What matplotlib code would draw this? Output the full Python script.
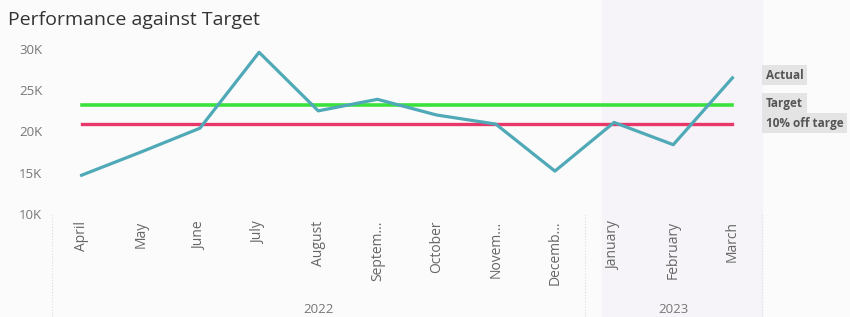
import matplotlib.pyplot as plt

months = ["April", "May", "June", "July", "August", "Septem...", "October",
          "Novem...", "Decemb...", "January", "February", "March"]
years = ["2022", "2023"]
months_per_year = [9, 3]
actual = [14700, 17500, 20400, 29600, 22500, 23900, 22000, 20900, 15200, 21100, 18400, 26500]
target = [23200] * 12
off_target = [20900] * 12
series_names = ["Actual", "Target", "10% off targe"]

W, H = 850, 317
fig = plt.figure(figsize=(W / 100, H / 100), dpi=100)
fig.patch.set_facecolor("#fbfbfb")
plt.rcParams["font.family"] = ["Open Sans", "DejaVu Sans"]


def fx(px):
    return px / W


def fy(py):
    return 1 - py / H


ax = fig.add_axes([fx(52), fy(214), fx(762) - fx(52), fy(49) - fy(214)])
ax.set_facecolor("none")
x = list(range(len(months)))

# faintly shaded 2023 block
split = months_per_year[0] - 0.5
ax.axvspan(split + 0.3, len(months) - 0.5, ymin=-0.7, ymax=1.7, color="#f6f4f8",
           zorder=0, clip_on=False)

ax.plot(x, target, color="#3ce23c", lw=2.6, zorder=3)
ax.plot(x, off_target, color="#e8386a", lw=2.4, zorder=3)
ax.plot(x, actual, color="#4fa9b7", lw=2.3, zorder=4)

ax.set_xlim(-0.5, len(months) - 0.5)
ax.set_ylim(10000, 30000)
ax.set_yticks([10000, 15000, 20000, 25000, 30000])
ax.set_yticklabels([f"{int(v / 1000)}K" for v in ax.get_yticks()])
ax.set_xticks(x)
ax.set_xticklabels(months, rotation=90, va="top", ha="center")
ax.tick_params(axis="x", length=0, pad=5, labelsize=10, labelcolor="#666666")
ax.tick_params(axis="y", length=0, pad=2, labelsize=9.5, labelcolor="#777777")
for lbl in ax.get_yticklabels():
    lbl.set_horizontalalignment("left")
    lbl.set_x(-30 / (762 - 52))
for s in ax.spines.values():
    s.set_visible(False)

# year labels and separators
start = 0
for yr, n in zip(years, months_per_year):
    mid = start + (n - 1) / 2
    ax.text(mid, -0.58, yr, transform=ax.get_xaxis_transform(), ha="center",
            va="center", fontsize=9.5, color="#777777")
    start += n
for xs in [-0.5, split, len(months) - 0.5]:
    ax.plot([xs, xs], [-0.62, 0.0], transform=ax.get_xaxis_transform(),
            color="#dddddd", lw=0.8, ls=":", clip_on=False)

# series labels at the right
label_y = [26800, 23400, 21000]
for name, yv in zip(series_names, label_y):
    ax.text(len(months) - 0.5 + 4 / 59, yv, name, fontsize=8.5, fontweight="bold",
            color="#555555", va="center", ha="left", clip_on=False,
            bbox=dict(boxstyle="square,pad=0.3", fc="#e4e4e4", ec="none"))

fig.text(fx(8), fy(20), "Performance against Target", fontsize=14,
         color="#333333", va="center", ha="left")

fig.savefig("out.png", dpi=100, facecolor=fig.get_facecolor())
